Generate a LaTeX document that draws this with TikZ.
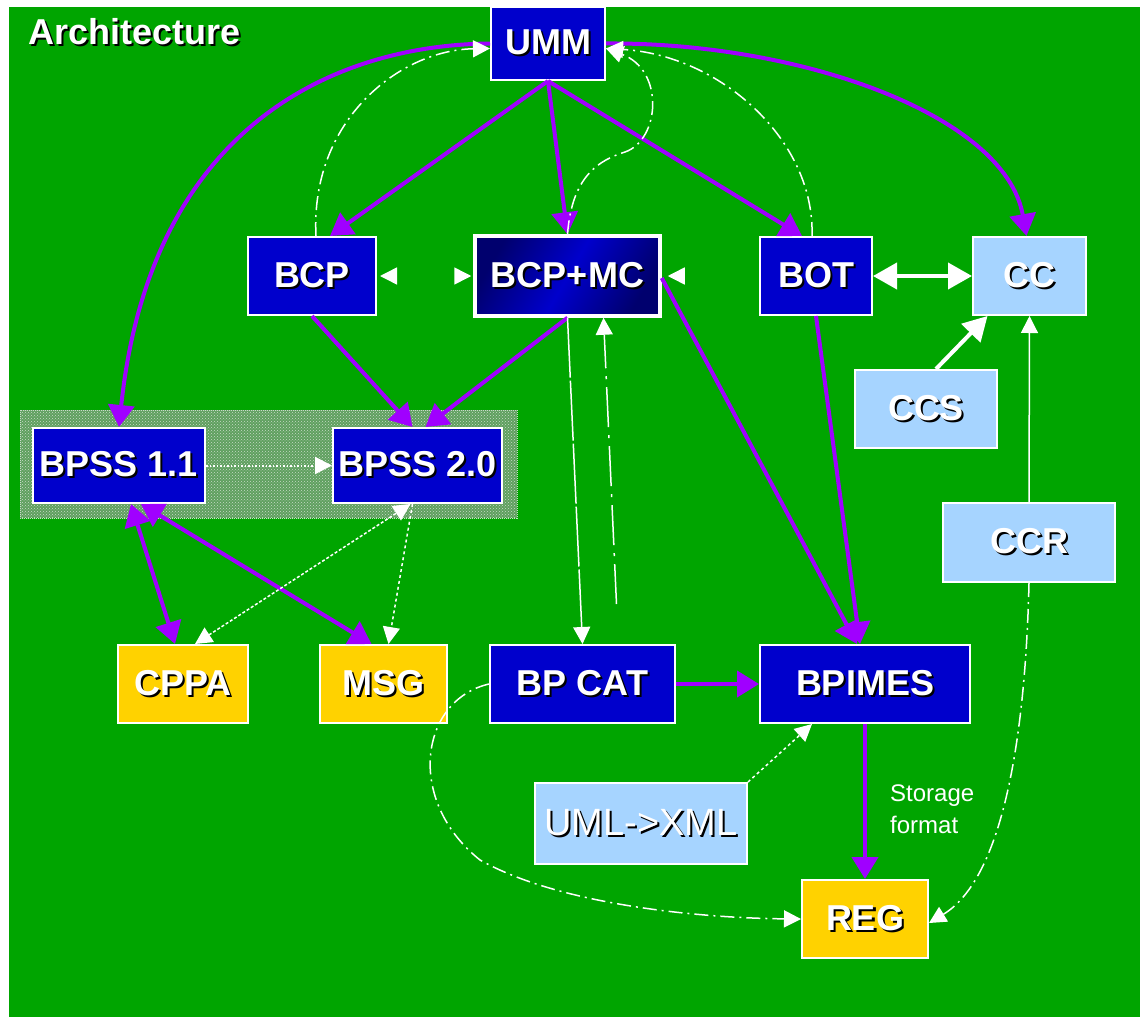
\documentclass[tikz,border=0pt]{standalone}
\usepackage{fontspec}
\setmainfont{Liberation Sans}
\usetikzlibrary{arrows.meta,patterns}

\definecolor{bggreen}{RGB}{0,165,0}
\definecolor{boxblue}{RGB}{0,0,204}
\definecolor{navyblue}{RGB}{0,0,110}
\definecolor{skyblue}{RGB}{166,212,255}
\definecolor{gold}{RGB}{255,210,0}
\definecolor{violet}{RGB}{160,0,255}
\definecolor{shadegreen}{RGB}{95,160,95}
\definecolor{dotwhite}{RGB}{200,220,200}

\newcommand{\shtext}[1]{\rlap{\kern2pt\raisebox{-2pt}{\color{black}#1}}#1}

\tikzset{
  box/.style={draw=white, line width=2pt, text=white, inner sep=0pt,
    font=\fontsize{36}{40}\selectfont\bfseries},
  darkbox/.style={box, fill=boxblue},
  lightbox/.style={box, fill=skyblue},
  yellowbox/.style={box, fill=gold},
  purplearrow/.style={draw=violet, line width=4pt, -{Triangle[length=22pt,width=26pt]}},
  purpleboth/.style={draw=violet, line width=4pt, {Triangle[length=22pt,width=26pt]}-{Triangle[length=22pt,width=26pt]}},
  whitearrow/.style={draw=white, line width=1.5pt, -{Triangle[length=17pt,width=17pt]}},
  whiteboth/.style={draw=white, line width=1.5pt, {Triangle[length=17pt,width=17pt]}-{Triangle[length=17pt,width=17pt]}},
  dashdot/.style={dash pattern=on 14pt off 5pt on 2pt off 5pt},
  hiddenline/.style={dash pattern=on 0pt off 300pt},
}

\begin{document}
\begin{tikzpicture}[x=1pt,y=-1pt]
\useasboundingbox (0,0) rectangle (1142,1017);
\fill[white] (0,0) rectangle (1142,1017);
\fill[bggreen] (9,7) rectangle (1140,1017);
\fill[shadegreen] (20,410) rectangle (517,518);
\path[pattern=crosshatch dots, pattern color=dotwhite] (20,410) rectangle (517,518);
\draw[dotwhite, densely dotted, line width=1pt] (20,410) rectangle (517,518);

\node[anchor=west, text=white, font=\fontsize{36}{40}\selectfont\bfseries] (title) at (25,33) {\shtext{Architecture}};

\node[darkbox, minimum width=114pt, minimum height=73pt] (umm) at (548,43.5) {\shtext{UMM}};
\node[darkbox, minimum width=128pt, minimum height=78pt] (bcp) at (312,276) {\shtext{BCP}};
\node[box, line width=3.5pt, left color=navyblue, right color=navyblue, middle color=boxblue, shading angle=60,
  minimum width=185pt, minimum height=80pt] (bcpmc) at (567.5,276) {\shtext{BCP+MC}};
\node[darkbox, minimum width=112pt, minimum height=78pt] (bot) at (816,276) {\shtext{BOT}};
\node[lightbox, minimum width=113pt, minimum height=78pt] (cc) at (1029.5,276) {\shtext{CC}};
\node[lightbox, minimum width=142pt, minimum height=78pt] (ccs) at (926,409) {\shtext{CCS}};
\node[lightbox, minimum width=172pt, minimum height=79pt] (ccr) at (1029,542.5) {\shtext{CCR}};
\node[darkbox, minimum width=172pt, minimum height=75pt] (bpssa) at (119,465.5) {\shtext{BPSS 1.1}};
\node[darkbox, minimum width=169pt, minimum height=75pt] (bpssb) at (417.5,465.5) {\shtext{BPSS 2.0}};
\node[yellowbox, minimum width=130pt, minimum height=78pt] (cppa) at (183,684) {\shtext{CPPA}};
\node[yellowbox, minimum width=127pt, minimum height=78pt] (msg) at (383.5,684) {\shtext{MSG}};
\node[darkbox, minimum width=185pt, minimum height=78pt] (bpcat) at (582.5,684) {\shtext{BP CAT}};
\node[darkbox, minimum width=210pt, minimum height=78pt] (bpimes) at (865,684) {\shtext{BPIMES}};
\node[lightbox, minimum width=212pt, minimum height=81pt, font=\fontsize{38}{40}\selectfont] (uml) at (641,823.5) {\shtext{UML->XML}};
\node[yellowbox, minimum width=126pt, minimum height=78pt] (reg) at (865,919) {\shtext{REG}};
\node[anchor=north west, text=white, align=left, inner sep=0pt,
  font=\fontsize{24}{32}\selectfont] (store) at (890,785) {Storage\\format};

\draw[purplearrow] (umm.west) .. controls (330,45) and (150,130) .. (bpssa.north);
\draw[purplearrow] (umm.east) .. controls (800,42) and (1005,115) .. ([xshift=-3pt]cc.north);
\draw[purplearrow] (umm.south) -- ([xshift=18pt]bcp.north);
\draw[purplearrow] (umm.south) -- (bcpmc.north);
\draw[purplearrow] (umm.south) -- ([xshift=-14pt]bot.north);
\draw[purplearrow] (bcp.south) -- ([xshift=-5pt]bpssb.north);
\draw[purplearrow] (bcpmc.south) -- ([xshift=8pt]bpssb.north);
\draw[purplearrow] ([yshift=-2pt]bcpmc.east) -- ([xshift=-8pt]bpimes.north);
\draw[purplearrow] (bot.south) -- ([xshift=-5pt]bpimes.north);
\draw[purpleboth] ([xshift=12pt]bpssa.south) -- ([xshift=-8pt]cppa.north);
\draw[purpleboth] ([xshift=22pt]bpssa.south) -- ([xshift=-12pt]msg.north);
\draw[purplearrow] (bpcat.east) -- (bpimes.west);
\draw[purplearrow] (bpimes.south) -- (reg.north);

\draw[whiteboth, hiddenline] ([xshift=3pt]bcp.east) -- ([xshift=-2pt]bcpmc.west);
\draw[whitearrow, hiddenline] (bot.west) -- ([xshift=6pt]bcpmc.east);
\draw[draw=white, line width=4pt, {Triangle[length=24pt,width=26pt]}-{Triangle[length=24pt,width=26pt]}] (bot.east) -- (cc.west);
\draw[draw=white, line width=4pt, -{Triangle[length=24pt,width=26pt]}] ([xshift=10pt]ccs.north) -- ([xshift=-42pt]cc.south);
\draw[whitearrow] (ccr.north) -- (cc.south);
\draw[whitearrow, dashdot] (ccr.south) .. controls (1025,750) and (1000,880) .. ([yshift=-4pt]reg.east);
\draw[whitearrow, dotted, line width=2pt] (bpssa.east) -- (bpssb.west);
\draw[whiteboth, densely dashed] ([xshift=12pt]cppa.north) -- ([xshift=-7pt]bpssb.south);
\draw[whitearrow, dashed] ([xshift=-5pt]bpssb.south) -- ([xshift=5pt]msg.north);
\draw[whitearrow, dash pattern=on 60pt off 3pt] (bcpmc.south) -- (bpcat.north);
\draw[whitearrow, dashdot, dash pattern=on 40pt off 8pt on 3pt off 8pt] ([xshift=34pt,yshift=40pt]bpcat.north) -- ([xshift=36pt]bcpmc.south);
\draw[whitearrow, dashdot] (bpcat.west) .. controls (420,700) and (405,800) .. (480,860)
  .. controls (560,905) and (700,918) .. (reg.west);
\draw[whitearrow, dashed] (uml.north east) -- ([xshift=-53pt]bpimes.south);
\draw[whitearrow, dashdot] ([xshift=4pt]bcp.north) .. controls (310,120) and (400,50) .. ([yshift=-5pt]umm.west);
\draw[whitearrow, dashdot] ([xshift=-4pt]bot.north) .. controls (815,140) and (720,55) .. ([yshift=-5pt]umm.east);
\draw[whitearrow, dashdot] (bcpmc.north) .. controls (572,175) and (600,160) .. (625,152)
  .. controls (660,140) and (665,70) .. ([yshift=-5pt]umm.east);
\end{tikzpicture}
\end{document}
